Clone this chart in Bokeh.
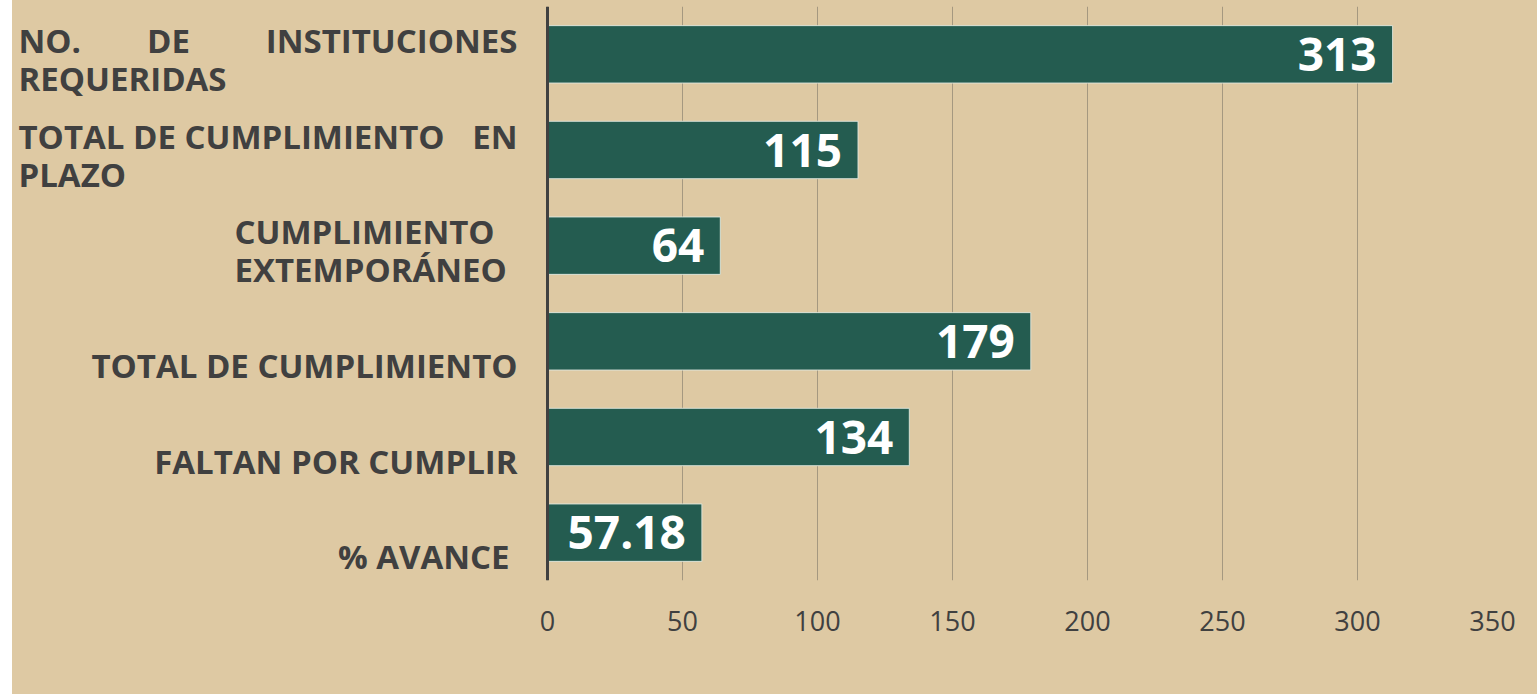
from bokeh.plotting import figure
from bokeh.models import ColumnDataSource, FixedTicker, Span, Range1d, FactorRange
from bokeh.core.properties import value
from bokeh.embed import file_html
from bokeh.resources import INLINE

# ---- data ----
categories = [
    "NO. DE INSTITUCIONES REQUERIDAS",
    "TOTAL DE CUMPLIMIENTO EN PLAZO",
    "CUMPLIMIENTO EXTEMPORÁNEO",
    "TOTAL DE CUMPLIMIENTO",
    "FALTAN POR CUMPLIR",
    "% AVANCE",
]
values = [313, 115, 64, 179, 134, 57.18]
tick_values = [0, 50, 100, 150, 200, 250, 300, 350]

# label layout: (category, line index, text, align, x pixel offset from value 0)
label_cat = [categories[0], categories[0], categories[0], categories[0],
             categories[1], categories[1], categories[1],
             categories[2], categories[2],
             categories[3], categories[4], categories[5]]
label_line = [0, 0, 0, 1, 0, 0, 1, 0, 1, 1, 1, 1]
label_text = ["NO.", "DE", "INSTITUCIONES", "REQUERIDAS",
              "TOTAL DE CUMPLIMIENTO", "EN", "PLAZO",
              "CUMPLIMIENTO", "EXTEMPORÁNEO",
              "TOTAL DE CUMPLIMIENTO", "FALTAN POR CUMPLIR", "% AVANCE"]
label_align = ["left", "center", "right", "left",
               "left", "right", "left",
               "left", "left",
               "right", "right", "right"]
label_dx = [-529, -379, -30, -529,
            -529, -30, -529,
            -313, -313,
            -30, -30, -38]

BG = "#DEC9A3"
BAR = "#245C50"
TXT = "#404040"

PX_PER_UNIT = 2.7
FRAME_W = 1480
x_end = 350
x_start = x_end - FRAME_W / PX_PER_UNIT

p = figure(
    width=1525, height=694,
    y_range=FactorRange(factors=list(reversed(categories)), range_padding=0),
    x_range=Range1d(x_start, x_end),
    output_backend="svg", toolbar_location=None,
    min_border_left=0, min_border_right=45, min_border_top=6, min_border_bottom=114,
)
p.margin = (0, 0, 0, 12)
p.styles = {"background-color": BG}
p.background_fill_color = None
p.border_fill_color = None
p.outline_line_color = None

src = ColumnDataSource(dict(cat=categories, val=values,
                            lab=[f"{v:g}" for v in values]))
p.hbar(y="cat", right="val", left=0, height=0.6, source=src,
       fill_color=BAR, line_color="#dfe8df", line_width=1, line_alpha=0.9)

p.text(x="val", y="cat", text="lab", source=src, x_offset=-16,
       text_align="right", text_baseline="middle",
       text_font=value("Open Sans"), text_font_style="bold",
       text_font_size="46px", text_color="white")

lsrc = ColumnDataSource(dict(
    cat=label_cat, text=label_text, align=label_align,
    dx=label_dx, dy=[-14 if l == 0 else 24 for l in label_line],
    x=[0] * len(label_text)))
p.text(x="x", y="cat", text="text", source=lsrc, x_offset="dx", y_offset="dy",
       text_align="align", text_baseline="middle",
       text_font=value("Open Sans"), text_font_style="bold",
       text_font_size="33px", text_color=TXT)

p.add_layout(Span(location=0, dimension="height", line_color=TXT, line_width=3))

p.yaxis.visible = False
p.ygrid.grid_line_color = None
ax = p.xaxis[0]
ax.ticker = FixedTicker(ticks=tick_values)
ax.axis_line_color = None
ax.major_tick_line_color = None
ax.minor_tick_line_color = None
ax.major_label_standoff = 24
ax.major_label_text_font = "Open Sans"
ax.major_label_text_font_size = "27px"
ax.major_label_text_color = TXT
p.xgrid.grid_line_color = "#a59880"
p.xgrid.grid_line_width = 1

open("out.html", "w").write(file_html(p, INLINE))
